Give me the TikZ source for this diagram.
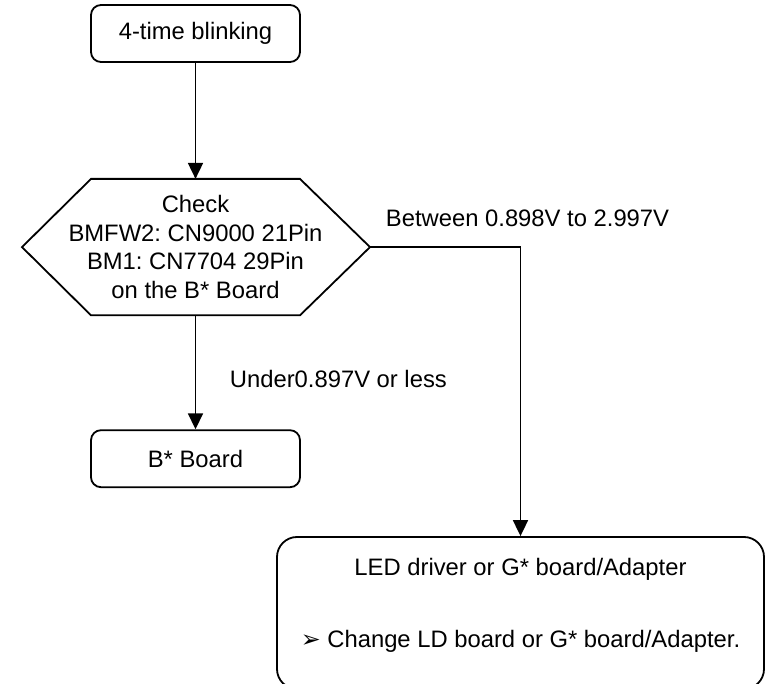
\documentclass[tikz,border=0pt]{standalone}
\usepackage{fontspec}
\setmainfont{Liberation Sans}
\newfontfamily\dingfont{DejaVu Sans}
\usetikzlibrary{arrows.meta, positioning}
\frenchspacing

\begin{document}
\begin{tikzpicture}[
  node distance = 116pt,
  font = \fontsize{23.8}{28.5}\selectfont,
  box/.style = {rectangle, draw, rounded corners=10pt, line width=1.8pt,
                minimum width=209pt, minimum height=57pt, inner sep=0pt},
  check/.style = {rectangle, minimum height=136pt, align=center, inner sep=0pt},
  bigbox/.style = {rectangle, draw, rounded corners=20pt, line width=1.8pt,
                   minimum width=487pt, minimum height=152pt},
  lbl/.style = {inner sep=0pt},
  arr/.style = {-{Triangle[length=16pt, width=15pt]}, line width=1.8pt},
]
  \useasboundingbox (0,0) rectangle (766pt,-684pt);

  \node[box] (blink) at (195.5pt,-33.5pt) {4-time blinking};
  \node[check, below=116pt of blink] (chk) {Check\\BMFW2: CN9000 21Pin\\BM1: CN7704 29Pin\\on the B* Board};
  % hexagon outline round the check text
  \coordinate (chkL) at ([xshift=-173.5pt]chk.center);
  \coordinate (chkR) at ([xshift=174.5pt]chk.center);
  \draw[line width=1.8pt, line join=miter]
    ([xshift=-104.5pt]chk.north) -- ([xshift=104.5pt]chk.north) -- (chkR)
    -- ([xshift=104.5pt]chk.south) -- ([xshift=-104.5pt]chk.south) -- (chkL) -- cycle;
  \node[box, below=114pt of chk] (board) {B* Board};
  \node[bigbox] (led) at (520.5pt,-613pt) {};
  \node[lbl] (ledT) at ([yshift=-33pt]led.north) {LED driver or G* board/Adapter};
  \node[lbl] (ledC) at ([yshift=-105pt]led.north) {{\dingfont ➢} Change LD board or G* board/Adapter.};

  \draw[arr] (blink) -- (chk);
  \draw[arr] (chk) -- node[lbl, right=33.5pt, pos=0.555] {Under0.897V or less} (board);
  \draw[arr] (chkR) -| node[lbl, pos=0.05, anchor=west, yshift=29pt] {Between 0.898V to 2.997V} (led);
\end{tikzpicture}
\end{document}
